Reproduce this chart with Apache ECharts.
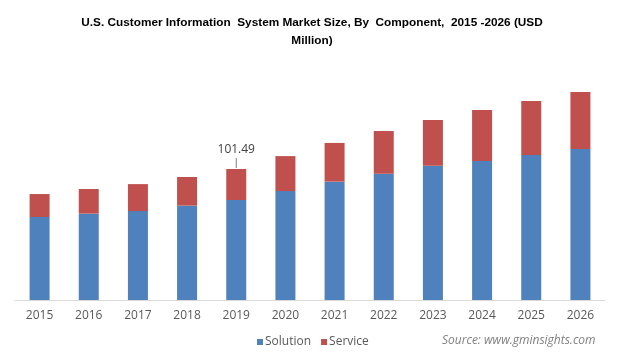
<!DOCTYPE html>
<html>
<head>
<meta charset="utf-8">
<script src="https://cdn.jsdelivr.net/npm/echarts@6/dist/echarts.min.js"></script>
<style>html,body{margin:0;padding:0;background:#fff;}#c{width:624px;height:358px;}</style>
</head>
<body>
<div id="c"></div>
<script>
var categories = ['2015','2016','2017','2018','2019','2020','2021','2022','2023','2024','2025','2026'];
var solution = [64.3, 66.9, 68.9, 73.1, 77.5, 84.4, 91.7, 97.8, 104.0, 107.7, 112.3, 117.0];
var service  = [17.8, 19.1, 20.9, 22.2, 23.99, 27.1, 30.0, 33.1, 35.4, 39.5, 41.9, 44.1];
var labelIndex = 4;
var labelTotal = Math.round((solution[labelIndex] + service[labelIndex]) * 100) / 100;

var chart = echarts.init(document.getElementById('c'), null, {renderer: 'canvas'});
var font = '"Open Sans", "Segoe UI", Arial, sans-serif';
chart.setOption({
  animation: false,
  title: {
    text: 'U.S. Customer Information  System Market Size, By  Component,  2015 -2026 (USD\nMillion)',
    left: 'center',
    top: 9,
    textStyle: {fontFamily: '"Liberation Sans", Arial, sans-serif', fontSize: 11.8, fontWeight: 'bold', color: '#000', lineHeight: 18}
  },
  legend: {
    data: ['Solution', 'Service'],
    left: 252,
    top: 331,
    itemWidth: 6,
    itemHeight: 6,
    itemGap: 10,
    icon: 'rect',
    textStyle: {fontFamily: font, fontSize: 12, color: '#595959', padding: [0, 0, 0, -3]}
  },
  graphic: [{
    type: 'text',
    left: 442,
    top: 335,
    style: {text: 'Source: www.gminsights.com', fontFamily: font, fontStyle: 'italic', fontSize: 12, fill: '#808080'}
  }],
  grid: {left: 15, right: 19, top: 67.7, bottom: 58},
  xAxis: {
    type: 'category',
    data: categories,
    axisLine: {lineStyle: {color: '#d9d9d9', width: 1}},
    axisTick: {show: false},
    axisLabel: {fontFamily: font, fontSize: 12, color: '#595959', margin: 10}
  },
  yAxis: {
    type: 'value', min: 0, max: 180, show: false, splitLine: {show: false}
  },
  series: [{
    name: 'Solution', type: 'bar', stack: 'total', data: solution, barWidth: 20,
    itemStyle: {color: '#4f81bd'}
  }, {
    name: 'Service', type: 'bar', stack: 'total', data: service, barWidth: 20,
    itemStyle: {color: '#c0504d'},
    markPoint: {
      silent: true,
      data: [{coord: [labelIndex, labelTotal], value: labelTotal}],
      symbol: 'rect',
      symbolSize: [1, 10],
      symbolOffset: [0, -6],
      itemStyle: {color: '#7f7f7f'},
      label: {show: true, position: 'top', distance: 2, formatter: String(labelTotal.toFixed(2)), fontFamily: font, fontSize: 12, color: '#404040'}
    }
  }]
});
</script>
</body>
</html>
